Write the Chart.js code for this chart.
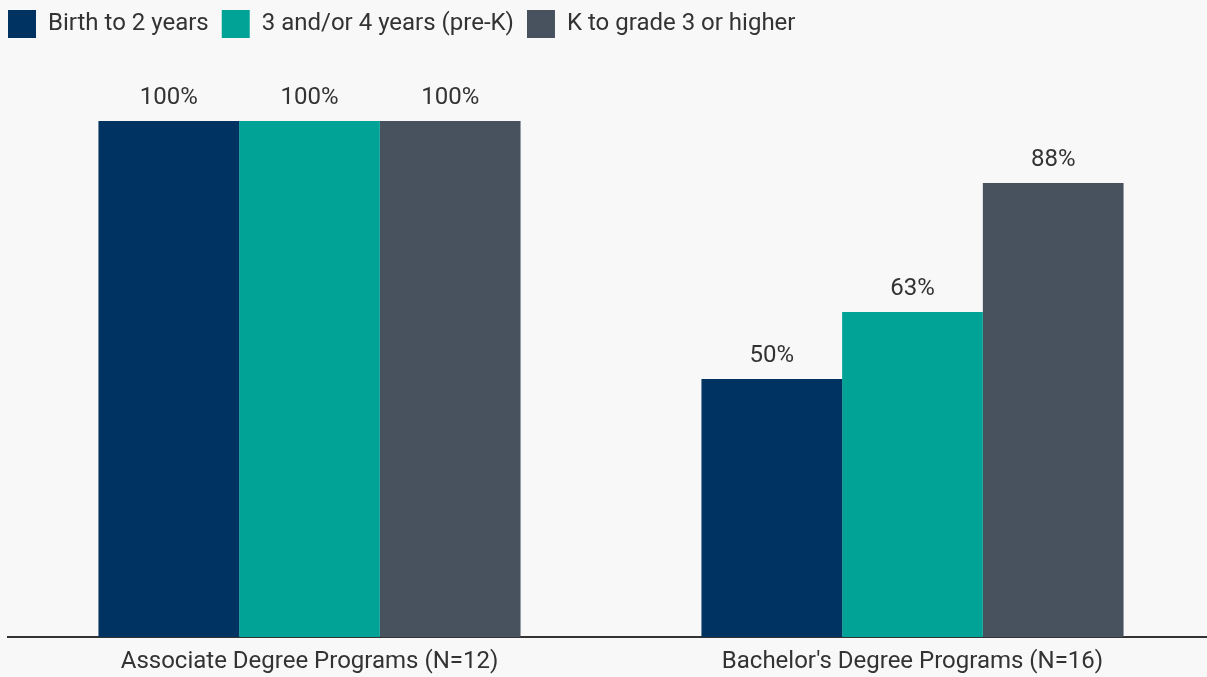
<!DOCTYPE html>
<html>
<head>
<meta charset="utf-8">
<script src="https://cdn.jsdelivr.net/npm/chart.js@4/dist/chart.umd.min.js"></script>
<style>
  html, body { margin: 0; padding: 0; background: #f8f8f8; overflow: hidden; }
  #wrap { width: 1214px; height: 677px; position: relative; }
</style>
</head>
<body>
<div id="wrap"><canvas id="grafik-program"></canvas></div>
<script>
const kategori = ["Associate Degree Programs (N=12)", "Bachelor's Degree Programs (N=16)"];
const seriNama = ["Birth to 2 years", "3 and/or 4 years (pre-K)", "K to grade 3 or higher"];
const lahirSampai2 = [100, 50];
const usia3dan4 = [100, 63];
const kSampaiKelas3 = [100, 88];
const warna = ["#003361", "#00a396", "#47525e"];

// tulis nilai persen di atas tiap batang
const labelNilai = {
    id: "labelNilai",
    afterDatasetsDraw(chart) {
        const ctx = chart.ctx;
        ctx.save();
        ctx.font = "24px Roboto";
        ctx.fillStyle = "#333333";
        ctx.textAlign = "center";
        ctx.textBaseline = "middle";
        chart.data.datasets.forEach((ds, i) => {
            chart.getDatasetMeta(i).data.forEach((bar, j) => {
                ctx.fillText(ds.data[j] + "%", bar.x, bar.y - 23);
            });
        });
        ctx.restore();
    },
};

// legenda lebih tinggi supaya ada ruang di atas batang, lalu digeser ke pojok kiri atas
const aturLegenda = {
    id: "aturLegenda",
    beforeInit(chart) {
        const fit = chart.legend.fit;
        chart.legend.fit = function () {
            fit.bind(chart.legend)();
            this.height = 121;
        };
    },
    afterLayout(chart) {
        const pad = chart.legend.options.labels.padding;
        chart.legend.left -= pad;
        chart.legend.top -= 3;
    },
};

const dataProgram = {
    type: "bar",
    data: {
        labels: kategori,
        datasets: [
            { label: seriNama[0], data: lahirSampai2, backgroundColor: warna[0] },
            { label: seriNama[1], data: usia3dan4, backgroundColor: warna[1] },
            { label: seriNama[2], data: kSampaiKelas3, backgroundColor: warna[2] },
        ],
    },
    options: {
        responsive: true,
        maintainAspectRatio: false,
        animation: false,
        categoryPercentage: 0.7,
        barPercentage: 1.0,
        layout: { padding: { left: 8, right: 0, top: 0, bottom: 0 } },
        plugins: {
            legend: {
                position: "top",
                align: "start",
                labels: {
                    boxWidth: 28,
                    boxHeight: 28,
                    padding: 13,
                    color: "#333333",
                    font: { family: "Roboto", size: 24 },
                },
            },
            tooltip: { enabled: false },
        },
        scales: {
            x: {
                grid: { display: false },
                border: { color: "#333333", width: 2 },
                ticks: { color: "#333333", font: { family: "Roboto", size: 24 }, padding: 3 },
                afterFit(scale) {
                    scale.height = 40;
                },
            },
            y: {
                display: false,
                min: 0,
                max: 100,
            },
        },
    },
    plugins: [labelNilai, aturLegenda],
};

new Chart(document.getElementById("grafik-program"), dataProgram);
</script>
</body>
</html>
